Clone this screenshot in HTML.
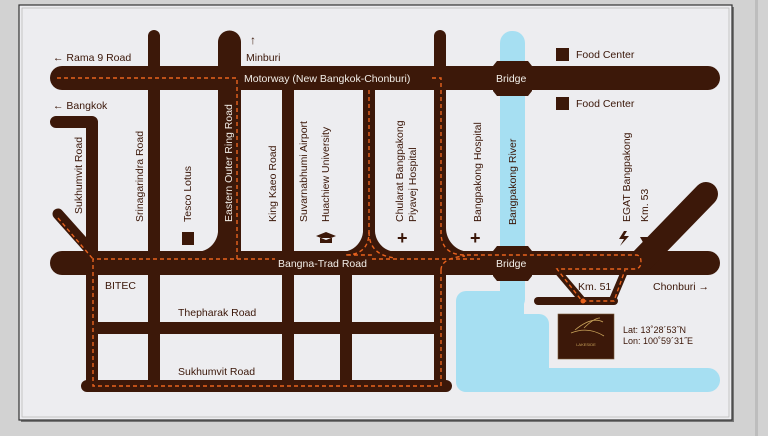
<!DOCTYPE html>
<html><head><meta charset="utf-8"><style>
html,body{margin:0;padding:0;background:#d2d2d2;}
svg{display:block}
text{font-family:"Liberation Sans",sans-serif;font-size:10.5px;fill:#3a1608}
.w{fill:#f2eee8}
</style></head><body>
<svg width="768" height="436" viewBox="0 0 768 436" xmlns="http://www.w3.org/2000/svg">
<rect x="0" y="0" width="768" height="436" fill="#d2d2d2"/>
<rect x="755" y="0" width="3" height="436" fill="#bdbdbd"/>
<rect x="21" y="7" width="713" height="415" fill="#777"/>
<rect x="19" y="5" width="713" height="415" fill="#ededf0" stroke="#333" stroke-width="1.2"/>
<rect x="22" y="8" width="707" height="409" fill="none" stroke="#bbb" stroke-width="0.8"/>

<!-- river -->
<g fill="#a6dff2">
<rect x="500" y="31" width="25" height="280" rx="12"/>
<rect x="500" y="60" width="25" height="240"/>
<path d="M466 291 H524 V314 H539 A10 10 0 0 1 549 324 V368 H708 A12 12 0 0 1 708 392 H466 A10 10 0 0 1 456 382 V301 A10 10 0 0 1 466 291Z"/>
</g>

<g fill="#3c1809" stroke="#3c1809">
<line x1="62" y1="78" x2="708" y2="78" stroke-width="24" stroke-linecap="round"/>
<line x1="62" y1="263" x2="708" y2="263" stroke-width="24" stroke-linecap="round"/>
<line x1="154" y1="36" x2="154" y2="386" stroke-width="12" stroke-linecap="round"/>
<line x1="229.5" y1="42" x2="229.5" y2="260" stroke-width="23" stroke-linecap="round"/>
<line x1="288" y1="80" x2="288" y2="386" stroke-width="12"/>
<line x1="440" y1="36" x2="440" y2="386" stroke-width="12" stroke-linecap="round"/>
<line x1="369" y1="80" x2="369" y2="260" stroke-width="12"/>
<line x1="346" y1="263" x2="346" y2="386" stroke-width="12"/>
<path d="M56 122 H92 V386" fill="none" stroke-width="12" stroke-linecap="round" stroke-linejoin="round"/>
<line x1="58" y1="214" x2="92" y2="252" stroke-width="11" stroke-linecap="round"/>
<line x1="87" y1="328" x2="446" y2="328" stroke-width="12"/>
<path d="M87 386 H446" stroke-width="12" stroke-linecap="round"/>
<path d="M218 228 V252 H196 A22 22 0 0 0 218 228Z" stroke="none"/>
<path d="M363 228 V252 H341 A22 22 0 0 0 363 228Z" stroke="none"/>
<path d="M375 228 V252 H397 A22 22 0 0 1 375 228Z" stroke="none"/>
<path d="M446 228 V252 H470 A24 24 0 0 1 446 228Z" stroke="none"/>
<line x1="640" y1="262" x2="706" y2="194" stroke-width="24" stroke-linecap="round"/>
<line x1="538" y1="301" x2="614" y2="301" stroke-width="8" stroke-linecap="round"/>
<line x1="555" y1="268" x2="583" y2="301" stroke-width="7"/>
<line x1="626" y1="268" x2="612" y2="301" stroke-width="7"/>
<path d="M497 61 H528 L532 66 V91 L528 96 H497 L493 91 V66Z" stroke="none"/>
<path d="M497 246 H528 L532 251 V276 L528 281 H497 L493 276 V251Z" stroke="none"/>
</g>

<g fill="none" stroke="#e8621e" stroke-width="1.4" stroke-dasharray="4 3">
<path d="M57 78 H237 V259 H93 V386 H441 V270"/>
<path d="M58 218 L93 259"/>
<path d="M237 259 H275"/>
<path d="M432 78 H441 V232 Q441 255 465 255 H636 Q641 255 641 262 Q641 269 634 269 H557 L582 301 H614 L625 270"/>
<path d="M369 90 V232 Q369 255 345 255 H372"/>
<path d="M369 232 Q369 255 395 258"/>
<path d="M441 270 Q441 258 465 256"/>
<path d="M372 259 H480"/>
</g>
<circle cx="583" cy="301" r="2.5" fill="#e8621e"/>

<text x="53" y="61">← Rama 9 Road</text>
<text x="53" y="109">← Bangkok</text>
<text x="250" y="44" style="font-size:12px">↑</text>
<text x="246" y="61">Minburi</text>
<text x="244" y="82" class="w">Motorway (New Bangkok-Chonburi)</text>
<text x="496" y="82" class="w">Bridge</text>
<text x="496" y="267" class="w">Bridge</text>
<text x="278" y="267" class="w">Bangna-Trad Road</text>
<rect x="556" y="48" width="13" height="13" fill="#3c1809"/>
<text x="576" y="58">Food Center</text>
<rect x="556" y="97" width="13" height="13" fill="#3c1809"/>
<text x="576" y="107">Food Center</text>

<text transform="translate(82,214) rotate(-90)">Sukhumvit Road</text>
<text transform="translate(143,222) rotate(-90)">Srinagarindra Road</text>
<text transform="translate(191,222) rotate(-90)">Tesco Lotus</text>
<rect x="182" y="232" width="12" height="13" fill="#3c1809"/>
<text transform="translate(232,222) rotate(-90)" class="w">Eastern Outer Ring Road</text>
<text transform="translate(276,222) rotate(-90)">King Kaeo Road</text>
<text transform="translate(307,222) rotate(-90)">Suvarnabhumi Airport</text>
<text transform="translate(329,222) rotate(-90)">Huachiew University</text>
<path d="M316 236 L326 232 L336 236 L326 240Z M320 238 V243 H332 V238" fill="#3c1809"/>
<text transform="translate(403,222) rotate(-90)">Chularat Bangpakong</text>
<text transform="translate(416,222) rotate(-90)">Piyavej Hospital</text>
<text x="397" y="244" style="font-size:18px;font-weight:bold">+</text>
<text transform="translate(481,222) rotate(-90)">Bangpakong Hospital</text>
<text x="470" y="244" style="font-size:18px;font-weight:bold">+</text>
<text transform="translate(516,225) rotate(-90)">Bangpakong River</text>
<text transform="translate(630,222) rotate(-90)">EGAT Bangpakong</text>
<text transform="translate(648,222) rotate(-90)">Km. 53</text>
<path d="M640 237 H648 L644 244Z" fill="#3c1809"/>
<path d="M624 231 L619 239 H624 L620 246 L629 236 H624 L627 231Z" fill="#3c1809"/>
<text x="105" y="289">BITEC</text>
<text x="178" y="316">Thepharak Road</text>
<text x="178" y="375">Sukhumvit Road</text>
<text x="578" y="290">Km. 51</text>
<text x="653" y="290">Chonburi →</text>

<rect x="558" y="314" width="56" height="45" fill="#3c1809" stroke="#7a5a3a" stroke-width="0.6"/>
<path d="M571 333 Q588 326 604 336 M575 330 Q592 316 603 322 M584 328 Q594 318 600 318" stroke="#c9a35a" stroke-width="0.8" fill="none"/>
<text x="586" y="346" style="font-size:4px;fill:#c9a35a" text-anchor="middle">LAKESIDE</text>
<text x="623" y="333" style="font-size:9px">Lat:  13˚28´53˝N</text>
<text x="623" y="344" style="font-size:9px">Lon: 100˚59´31˝E</text>
</svg>
</body></html>
